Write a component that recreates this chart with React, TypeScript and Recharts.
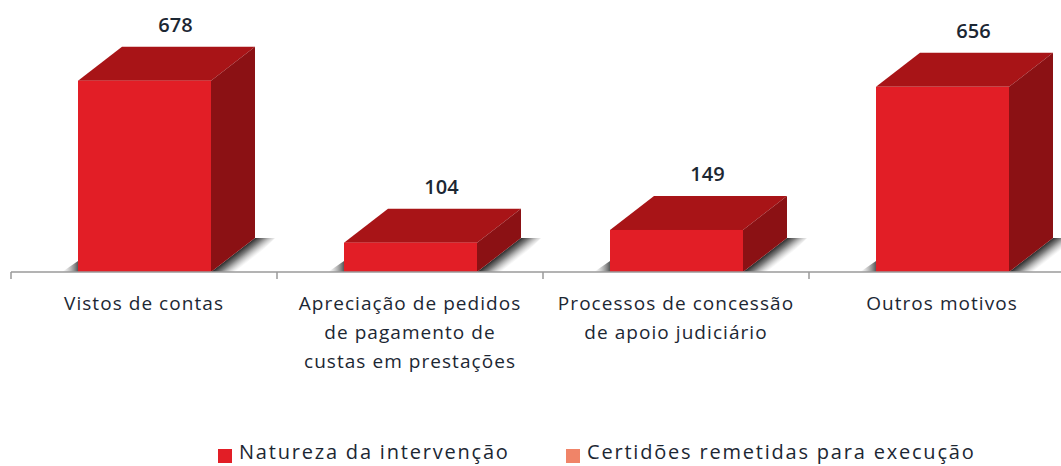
import React from "react";
import { BarChart, Bar, XAxis, YAxis, Legend, LabelList } from "recharts";

const categories = [
  "Vistos de contas",
  "Apreciação de pedidos de pagamento de custas em prestações",
  "Processos de concessão de apoio judiciário",
  "Outros motivos",
];
const categoryLines = [
  ["Vistos de contas"],
  ["Apreciação de pedidos", "de pagamento de", "custas em prestações"],
  ["Processos de concessão", "de apoio judiciário"],
  ["Outros motivos"],
];
const natureza = [678, 104, 149, 656];
const certidoes = [0, 0, 0, 0];
const seriesNames = ["Natureza da intervenção", "Certidões remetidas para execução"];
const seriesColors = ["#e21e26", "#f08468"];

const data = categories.map((c, i) => ({ name: c, natureza: natureza[i], certidoes: certidoes[i] }));

const DX = 44;
const DY = 34;
const BAND = 266;
const FONT = "'Open Sans', sans-serif";
const TEXT = "#1c2733";

const Box = (props: any) => {
  const { x, y, width: w, height: h } = props;
  const r = x + w;
  const b = y + h;
  return (
    <g>
      <defs>
        <linearGradient id="shadowR" x1="0.35" y1="0.5" x2="0.6" y2="0.67">
          <stop offset="0" stopColor="#222" stopOpacity={0.95} />
          <stop offset="0.35" stopColor="#444" stopOpacity={0.7} />
          <stop offset="1" stopColor="#999" stopOpacity={0} />
        </linearGradient>
        <linearGradient id="shadowL" x1="0" y1="0" x2="1" y2="0">
          <stop offset="0" stopColor="#aaa" stopOpacity={0} />
          <stop offset="1" stopColor="#444" stopOpacity={0.9} />
        </linearGradient>
      </defs>
      <polygon points={`${r},${b} ${r + DX},${b - DY} ${r + DX + 20},${b - DY} ${r + 30},${b}`} fill="url(#shadowR)" />
      <polygon points={`${x - 16},${b} ${x},${b - 11} ${x},${b}`} fill="url(#shadowL)" />
      <polygon points={`${x},${y} ${x + DX},${y - DY} ${r + DX},${y - DY} ${r},${y}`} fill="#a81417" />
      <polygon points={`${r},${y} ${r + DX},${y - DY} ${r + DX},${b - DY} ${r},${b}`} fill="#8b1114" />
      <rect x={x} y={y} width={w} height={h} fill={seriesColors[0]} />
    </g>
  );
};

const ValueLabel = (props: any) => {
  const { x, y, width, value } = props;
  return (
    <text
      x={x + width / 2 + 31}
      y={y - DY - 15}
      textAnchor="middle"
      fontFamily={FONT}
      fontWeight={600}
      fontSize={20}
      fill={TEXT}
    >
      {value}
    </text>
  );
};

const Tick = (props: any) => {
  const { x, y, index } = props;
  const lines = categoryLines[index] || [];
  const tx = x - BAND / 2;
  return (
    <g>
      <line x1={tx} x2={tx} y1={272} y2={279} stroke="#9a9a9a" strokeWidth={1.5} />
      <text textAnchor="middle" fontFamily={FONT} fontSize={19} letterSpacing={1.05} fill={TEXT}>
        {lines.map((l, i) => (
          <tspan key={i} x={x} y={y + 30 + i * 29}>
            {l}
          </tspan>
        ))}
      </text>
    </g>
  );
};

const LegendContent = () => (
  <div style={{ position: "relative", width: 1061, height: 24, fontFamily: FONT, fontSize: 20, color: TEXT, letterSpacing: 1.8 }}>
    {seriesNames.map((n, i) => (
      <div key={n} style={{ position: "absolute", left: i === 0 ? 218 : 566, top: 0, height: 24, whiteSpace: "nowrap", lineHeight: "24px" }}>
        <span style={{ display: "inline-block", width: 14, height: 14, background: seriesColors[i], marginRight: 7, verticalAlign: -4 }} />
        {n}
      </div>
    ))}
  </div>
);

export default function App() {
  return (
    <div style={{ position: "absolute", left: 0, top: 0, width: 1061, height: 466, overflow: "hidden", background: "#fff" }}>
      <BarChart
        width={1075}
        height={466}
        data={data}
        margin={{ top: 18, right: 0, bottom: 70, left: 11 }}
        barSize={133}
      >
        <YAxis hide domain={[0, 900]} />
        <XAxis
          dataKey="name"
          interval={0}
          height={100}
          axisLine={{ stroke: "#9a9a9a", strokeWidth: 1.5 }}
          tickLine={false}
          tick={<Tick />}
        />
        <Legend
          content={<LegendContent />}
          height={24}
          wrapperStyle={{ left: 0, top: 440, width: 1061, height: 24 }}
        />
        <Bar dataKey="natureza" name={seriesNames[0]} stackId="a" fill={seriesColors[0]} shape={<Box />} isAnimationActive={false}>
          <LabelList dataKey="natureza" content={<ValueLabel />} />
        </Bar>
        <Bar dataKey="certidoes" name={seriesNames[1]} stackId="a" fill={seriesColors[1]} isAnimationActive={false} />
      </BarChart>
    </div>
  );
}
